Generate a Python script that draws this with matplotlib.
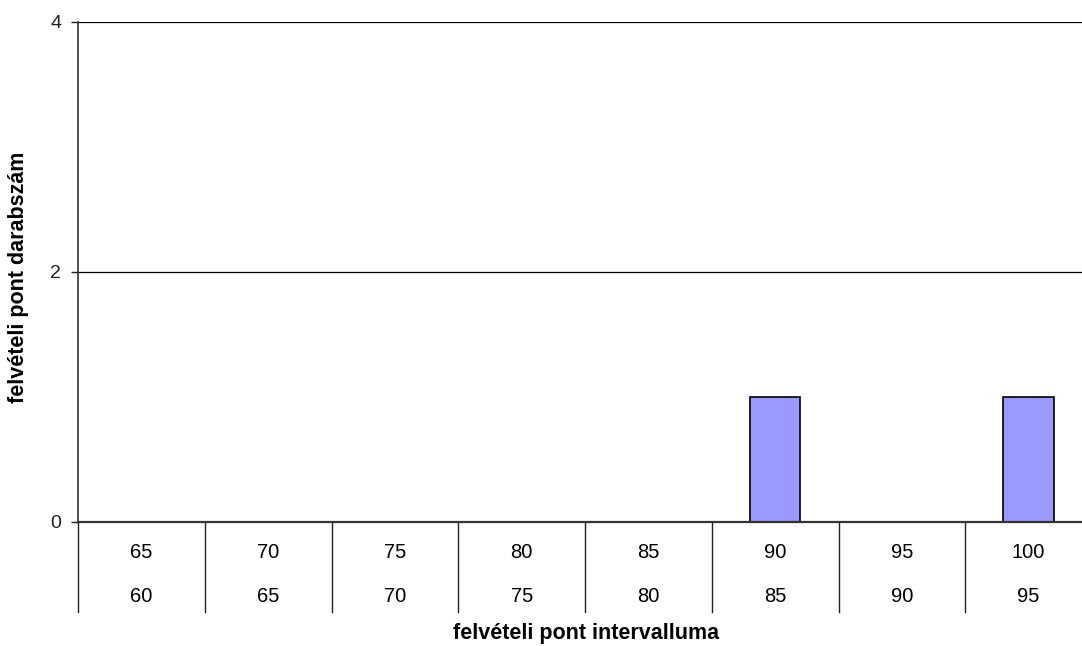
import matplotlib.pyplot as plt
import matplotlib.transforms as mtransforms

upper = ['65', '70', '75', '80', '85', '90', '95', '100']
lower = ['60', '65', '70', '75', '80', '85', '90', '95']
counts = [0, 0, 0, 0, 0, 1, 0, 1]
yticks = [0, 2, 4]

plt.rcParams['font.family'] = ['Liberation Sans', 'DejaVu Sans']

fig = plt.figure(figsize=(10.82, 6.46), dpi=100)
# plot area runs a little past the right edge of the picture
ax = fig.add_axes([78 / 1082, 1 - 522 / 646, (1092 - 78) / 1082, 500 / 646])

x = range(len(counts))
ax.bar(x, counts, width=0.4, color='#9999FF', edgecolor='black', linewidth=1.2, zorder=2)

ax.set_xlim(-0.5, len(counts) - 0.5)
ax.set_ylim(0, 4)
ax.set_yticks(yticks)
ax.tick_params(axis='y', length=5, width=1, labelsize=14, pad=7, colors='#222222')
ax.set_xticks([])
for y in yticks[1:]:
    ax.axhline(y, color='black', linewidth=0.9, zorder=1)

for s in ['top', 'right']:
    ax.spines[s].set_visible(False)
ax.spines['left'].set_color('#333333')
ax.spines['bottom'].set_color('#333333')
ax.spines['left'].set_linewidth(1.2)
ax.spines['bottom'].set_linewidth(1.6)
ax.spines['bottom'].set_zorder(3)

trans = mtransforms.blended_transform_factory(ax.transData, ax.transAxes)
for i in range(len(counts)):
    ax.plot([i - 0.5, i - 0.5], [0, -90 / 500], transform=trans, color='#222222',
            linewidth=1, clip_on=False)
    ax.text(i, -31 / 500, upper[i], transform=trans, ha='center', va='center', fontsize=14.5)
    ax.text(i, -75 / 500, lower[i], transform=trans, ha='center', va='center', fontsize=14.5)

fig.text(586 / 1082, 1 - 634 / 646, 'felvételi pont intervalluma',
         ha='center', va='center', fontsize=15.5, fontweight='bold')
fig.text(19 / 1082, 1 - 277 / 646, 'felvételi pont darabszám', rotation=90,
         ha='center', va='center', fontsize=15.5, fontweight='bold')

fig.savefig('out.png', dpi=100)
